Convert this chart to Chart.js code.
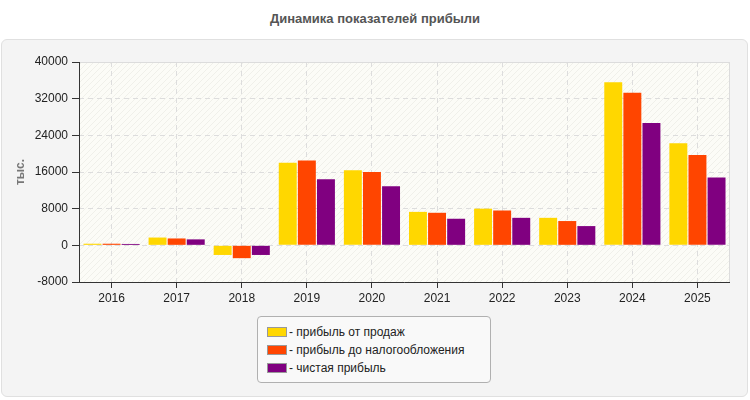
<!DOCTYPE html>
<html><head><meta charset="utf-8">
<script src="https://cdn.jsdelivr.net/npm/chart.js@4"></script>
<style>
html,body{margin:0;padding:0;background:#fff;width:750px;height:400px;overflow:hidden;font-family:"Liberation Sans",Arial,sans-serif;}
#title{position:absolute;left:0;top:11px;width:750px;text-align:center;font-weight:bold;font-size:13px;color:#555;}
#panel{position:absolute;left:1px;top:39px;width:745px;height:356px;background:#f4f4f4;border:1px solid #e0e0e0;border-radius:6px;}
#wrap{position:absolute;left:0;top:0;width:750px;height:400px;}
#legend{position:absolute;left:257px;top:316px;width:232px;height:65px;background:#f9f9f9;border:1px solid #b0b0b0;border-radius:4px;font-size:12px;color:#222;}
.li{position:absolute;left:9px;height:18px;line-height:18px;white-space:nowrap;}
.sw{display:inline-block;width:18px;height:8px;border:1px solid #999;vertical-align:middle;margin-right:2px;margin-top:-2px;}
</style></head>
<body>
<div id="title">Динамика показателей прибыли</div>
<div id="panel"></div>
<div id="wrap"><canvas id="c" width="750" height="400"></canvas></div>
<div id="legend"></div>
<script>
const years = ['2016','2017','2018','2019','2020','2021','2022','2023','2024','2025'];
const salesProfit = [350, 1700, -2100, 18000, 16400, 7300, 8000, 6000, 35600, 22300];
const preTaxProfit = [350, 1500, -2800, 18500, 16000, 7100, 7600, 5300, 33300, 19700];
const netProfit = [300, 1300, -2100, 14400, 12900, 5800, 6000, 4200, 26700, 14800];
const seriesNames = ['прибыль от продаж', 'прибыль до налогообложения', 'чистая прибыль'];
const seriesColors = ['#FFD700', '#FF4500', '#800080'];
const yTicks = [-8000, 0, 8000, 16000, 24000, 32000, 40000];

const leg = document.getElementById('legend');
seriesNames.forEach((n,i)=>{
  const d=document.createElement('div');d.className='li';d.style.top=(6+i*18)+'px';
  d.innerHTML='<span class="sw" style="background:'+seriesColors[i]+'"></span>- '+n;
  leg.appendChild(d);
});

function hatch(ctx){
  const p=document.createElement('canvas');p.width=6;p.height=6;
  const g=p.getContext('2d');
  g.fillStyle='#fcfcf7';g.fillRect(0,0,6,6);
  g.strokeStyle='#f0f0ea';g.lineWidth=1;
  g.beginPath();g.moveTo(0,6);g.lineTo(6,0);g.moveTo(-1,1);g.lineTo(1,-1);g.moveTo(5,7);g.lineTo(7,5);g.stroke();
  return ctx.createPattern(p,'repeat');
}
const bgPlugin={id:'bg',beforeDraw(chart){
  const {ctx,chartArea:a}=chart;ctx.save();
  ctx.fillStyle=hatch(ctx);ctx.fillRect(a.left,a.top,a.right-a.left,a.bottom-a.top);
  ctx.restore();
},afterDatasetsDraw(chart){
  const {ctx,chartArea:a}=chart;ctx.save();
  ctx.strokeStyle='#dcdcdc';ctx.lineWidth=1;ctx.beginPath();
  ctx.moveTo(a.left,a.top+0.5);ctx.lineTo(a.right,a.top+0.5);
  ctx.moveTo(a.right-0.5,a.top);ctx.lineTo(a.right-0.5,a.bottom);ctx.stroke();
  ctx.strokeStyle='#333';ctx.beginPath();
  ctx.moveTo(a.left+0.5,a.top);ctx.lineTo(a.left+0.5,a.bottom);
  ctx.moveTo(a.left,a.bottom+0.5);ctx.lineTo(a.right,a.bottom+0.5);ctx.stroke();
  ctx.restore();
}};

const datasets=[salesProfit,preTaxProfit,netProfit].map((d,i)=>({
  label:seriesNames[i],data:d,backgroundColor:seriesColors[i],borderWidth:0,
  categoryPercentage:0.88,barPercentage:0.94
}));

new Chart(document.getElementById('c'),{
  type:'bar',
  data:{labels:years,datasets},
  plugins:[bgPlugin],
  options:{
    responsive:false,animation:false,
    layout:{padding:{left:0,top:62,right:20,bottom:88}},
    plugins:{legend:{display:false},title:{display:false},tooltip:{enabled:false}},
    scales:{
      x:{
        grid:{offset:false,color:'#dddddd',tickColor:'#333',tickLength:6,drawOnChartArea:true},
        border:{display:false,dash:[5,4]},
        ticks:{color:'#222',font:{size:12,family:'"Liberation Sans",Arial'},padding:3,maxRotation:0},
        afterFit(s){s.height=30;}
      },
      y:{
        min:-8000,max:40000,
        afterBuildTicks(s){s.ticks=yTicks.map(v=>({value:v}));},
        grid:{color:'#dddddd',tickColor:'#333',tickLength:7},
        border:{display:false,dash:[5,4]},
        ticks:{color:'#222',font:{size:12,family:'"Liberation Sans",Arial'},padding:4,callback:v=>String(v)},
        title:{display:true,text:'тыс.',color:'#777',font:{size:12,weight:'bold',family:'"Liberation Sans",Arial'},padding:{top:13,bottom:0}},
        afterFit(s){s.width=79;}
      }
    }
  }
});
</script>
</body></html>
